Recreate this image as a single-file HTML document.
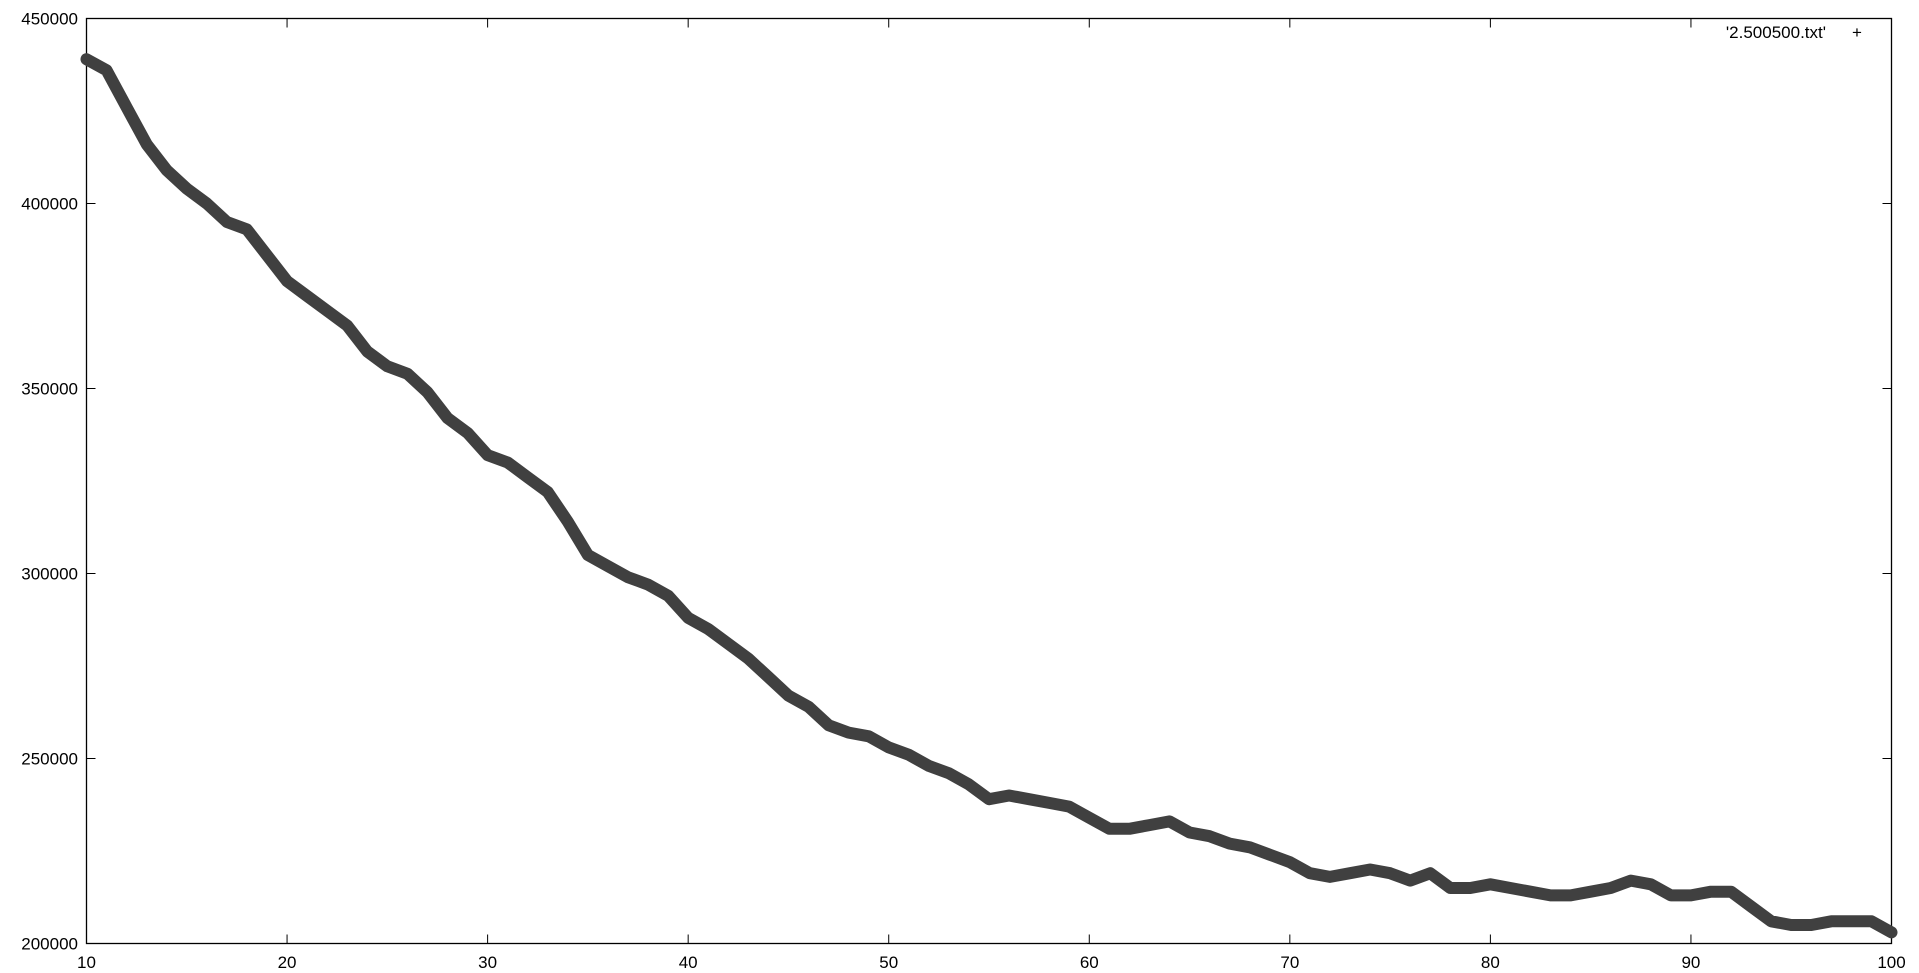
<!DOCTYPE html>
<html><head><meta charset="utf-8"><style>
html,body{margin:0;padding:0;background:#fff;width:1919px;height:973px;overflow:hidden}
svg text{font-family:"Liberation Sans",sans-serif;font-size:17px;fill:#000}
</style></head><body>
<svg id="chart" width="1919" height="973" xmlns="http://www.w3.org/2000/svg">
<rect x="86.5" y="18.5" width="1805" height="925" fill="none" stroke="#000" stroke-width="1.3"/>
<g id="axes"></g>
<polyline id="series" fill="none" stroke="#404040" stroke-width="12" stroke-linejoin="round" stroke-linecap="round"/>
<text x="1826" y="38" text-anchor="end">'2.500500.txt'</text>
<text x="1857" y="38" text-anchor="middle" fill="#404040">+</text>
</svg>
<script>
const xValues=[10,11,12,13,14,15,16,17,18,19,20,21,22,23,24,25,26,27,28,29,30,31,32,33,34,35,36,37,38,39,40,41,42,43,44,45,46,47,48,49,50,51,52,53,54,55,56,57,58,59,60,61,62,63,64,65,66,67,68,69,70,71,72,73,74,75,76,77,78,79,80,81,82,83,84,85,86,87,88,89,90,91,92,93,94,95,96,97,98,99,100];
const yValues=[439000,436000,426000,416000,409000,404000,400000,395000,393000,386000,379000,375000,371000,367000,360000,356000,354000,349000,342000,338000,332000,330000,326000,322000,314000,305000,302000,299000,297000,294000,288000,285000,281000,277000,272000,267000,264000,259000,257000,256000,253000,251000,248000,246000,243000,239000,240000,239000,238000,237000,234000,231000,231000,232000,233000,230000,229000,227000,226000,224000,222000,219000,218000,219000,220000,219000,217000,219000,215000,215000,216000,215000,214000,213000,213000,214000,215000,217000,216000,213000,213000,214000,214000,210000,206000,205000,205000,206000,206000,206000,203000];
const xTicks=[10,20,30,40,50,60,70,80,90,100];
const yTicks=[200000,250000,300000,350000,400000,450000];
const L=86.5,R=1891.5,T=18.5,B=943.5;
const sx=v=>L+(v-10)/90*(R-L);
const sy=v=>B-(v-200000)/250000*(B-T);
const ns="http://www.w3.org/2000/svg";
const g=document.getElementById('axes');
function mk(tag,attrs){const e=document.createElementNS(ns,tag);for(const k in attrs)e.setAttribute(k,attrs[k]);g.appendChild(e);return e;}
xTicks.forEach(v=>{const x=sx(v);
 const t1=mk('line',{x1:x,x2:x,y1:B,y2:B-9,stroke:'#000'});
 
 
 const t2=mk('line',{x1:x,x2:x,y1:T,y2:T+9,stroke:'#000'});
 
 
 const tx=mk('text',{x:x,y:968,'text-anchor':'middle'});tx.textContent=v;
 
 
});
yTicks.forEach(v=>{const y=sy(v);
 const t1=mk('line',{x1:L,x2:L+9,y1:y,y2:y,stroke:'#000'});
 
 
 const t2=mk('line',{x1:R,x2:R-9,y1:y,y2:y,stroke:'#000'});
 
 
 const tx=mk('text',{x:78,y:y+6,'text-anchor':'end'});tx.textContent=v;
 
 
});
document.getElementById('series').setAttribute('points',xValues.map((x,i)=>sx(x).toFixed(1)+','+sy(yValues[i]).toFixed(1)).join(' '));
</script>
</body></html>
